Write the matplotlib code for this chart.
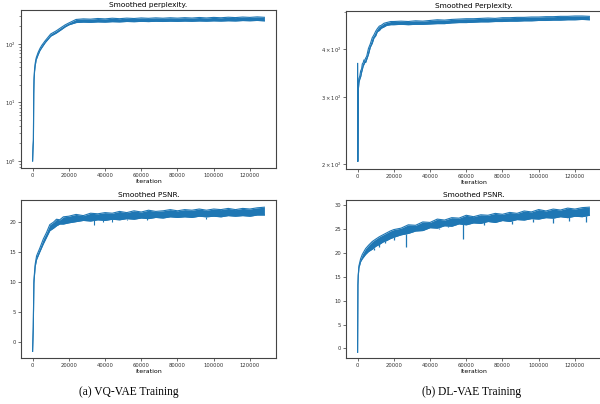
import matplotlib
matplotlib.use("Agg")
import matplotlib.pyplot as plt
from matplotlib.ticker import NullFormatter, FixedLocator
import numpy as np

# ---------------- data ----------------
dense_x = [20000, 24000, 28000, 32000, 36000, 40000, 44000, 48000, 52000, 56000,
           60000, 64000, 68000, 72000, 76000, 80000, 84000, 88000, 92000, 96000,
           100000, 104000, 108000, 112000, 116000, 120000, 124000, 128000]

# (a) VQ-VAE: smoothed perplexity (log scale)
vq_pp_early_x = [0, 200, 350, 450, 550, 650, 800, 1100, 1500, 2000, 3000, 4000, 5000,
                 7000, 10000, 13000, 16000, 18000]
vq_pp_early_hi = [1.0, 1.7, 2.1, 2.3, 6.3, 15.6, 26, 37.5, 48, 58, 71, 83, 94,
                  114, 148, 167, 193, 212]
vq_pp_early_lo = [1.0, 1.5, 1.9, 2.1, 5.7, 14.4, 24, 34.5, 44, 54, 65, 77, 86,
                  106, 136, 153, 177, 196]
vq_pp_hi = [228, 262, 268, 265, 272, 268, 275, 270, 276, 272, 278, 274, 279, 275,
            280, 276, 281, 277, 283, 278, 284, 280, 286, 282, 288, 284, 290, 285]
vq_pp_lo = [212, 232, 236, 234, 238, 236, 240, 238, 242, 240, 243, 241, 244, 242,
            245, 243, 246, 244, 247, 245, 248, 246, 249, 247, 251, 249, 252, 248]

# (b) DL-VAE: smoothed perplexity (log scale)
dl_pp_early_x = [0, 100, 370, 740, 1200, 1700, 2200, 2600, 3100, 3500, 4000, 4400,
                 5000, 6000, 7000, 8100, 9000, 10000, 10900, 12000, 13000, 14600,
                 16000, 18300]
dl_pp_early_hi = [367, 203, 318, 335, 340, 351, 355, 366, 369, 375, 374, 379,
                  383, 402, 413, 429, 436, 446, 453, 460, 462, 468, 470, 473]
dl_pp_early_lo = [367, 203, 312, 327, 334, 339, 348, 354, 362, 365, 370, 369,
                  376, 388, 405, 415, 428, 434, 445, 448, 454, 458, 462, 464]
dl_pp_hi = [473, 474, 473, 475, 474, 476, 478, 477, 479, 480, 481, 481, 482, 483,
            482, 484, 484, 485, 485, 486, 486, 487, 487, 488, 488, 489, 489, 488]
dl_pp_lo = [464, 465, 464, 465, 465, 466, 467, 467, 469, 470, 470, 471, 472, 472,
            473, 473, 474, 474, 475, 475, 476, 476, 477, 477, 478, 478, 479, 478]

# (a) VQ-VAE: smoothed PSNR
vq_ps_early_x = [0, 370, 550, 730, 1100, 1470, 2200, 4000, 5900, 7700, 9500,
                 11500, 13200, 15000, 17000]
vq_ps_early_hi = [-1.6, 2.5, 6.4, 10.2, 11.7, 13.0, 14.3, 15.6, 17.1, 18.2, 19.5,
                  19.9, 20.4, 20.3, 20.8]
vq_ps_early_lo = [-1.6, 2.1, 6.0, 9.8, 11.3, 12.6, 13.7, 15.0, 16.3, 17.4, 18.5,
                  18.9, 19.3, 19.6, 19.6]
vq_ps_hi = [20.9, 21.2, 21.0, 21.4, 21.3, 21.5, 21.4, 21.7, 21.5, 21.8, 21.6, 21.9,
            21.7, 21.8, 22.0, 21.8, 22.0, 21.9, 22.1, 21.9, 22.1, 22.0, 22.2, 22.0,
            22.2, 22.1, 22.3, 22.4]
vq_ps_lo = [19.8, 20.0, 20.2, 20.1, 20.3, 20.2, 20.4, 20.3, 20.5, 20.4, 20.6, 20.5,
            20.7, 20.6, 20.8, 20.7, 20.8, 20.7, 20.9, 20.8, 20.9, 20.8, 21.0, 20.9,
            21.0, 20.9, 21.1, 21.1]
vq_ps_dip_x = [34000, 44000, 39000, 63000, 96000, 52000]
vq_ps_dip_y = [19.5, 20.0, 20.0, 20.3, 20.5, 20.2]

# (b) DL-VAE: smoothed PSNR
dl_ps_early_x = [0, 185, 370, 740, 1670, 2600, 4400, 6000, 8100, 10000, 12000,
                 14000, 16000, 18000]
dl_ps_early_hi = [-0.8, 13.3, 15.4, 17.3, 18.8, 19.7, 20.9, 21.6, 22.4, 22.9, 23.4,
                  23.8, 24.2, 24.6]
dl_ps_early_lo = [-0.8, 13.3, 15.2, 16.9, 18.2, 18.8, 19.7, 20.3, 20.8, 21.4, 21.8,
                  22.3, 22.6, 23.0]
dl_ps_hi = [24.9, 25.2, 25.9, 25.8, 26.5, 26.4, 27.1, 26.9, 27.4, 27.3, 27.9, 27.6,
            28.0, 27.9, 28.3, 28.1, 28.5, 28.3, 28.8, 28.6, 29.1, 28.8, 29.2, 29.0,
            29.4, 29.2, 29.5, 29.6]
dl_ps_lo = [23.3, 23.8, 24.1, 24.6, 24.7, 25.3, 25.2, 25.7, 25.6, 26.1, 25.9, 26.3,
            26.2, 26.6, 26.4, 26.8, 26.6, 27.0, 26.9, 27.2, 27.1, 27.4, 27.3, 27.6,
            27.4, 27.7, 27.6, 27.9]
dl_ps_dip_x = [9000, 12000, 15000, 20000, 27000, 35000, 45000, 50000, 58000,
               70000, 85000, 97000, 108000, 117000, 126000]
dl_ps_dip_y = [20.6, 21.3, 22.0, 22.8, 21.3, 24.6, 25.0, 25.4, 22.9,
               25.9, 26.0, 26.5, 26.3, 26.6, 26.5]

C0 = '#1f77b4'

# ---------------- figure ----------------
fig = plt.figure(figsize=(6.0, 4.04), dpi=100)
W, H = 600, 404

def make_ax(left, top, right, bottom):
    return fig.add_axes([left / W, 1 - bottom / H, (right - left) / W, (bottom - top) / H])

ax_tl = make_ax(21, 10, 276, 168)
ax_tr = make_ax(346, 11, 601, 169)
ax_bl = make_ax(21, 200, 276, 358)
ax_br = make_ax(346, 200, 601, 358)

tick_fs = 3.8
lab_fs = 4.5
title_fs = 5.3

def style(ax, title, xlabel):
    for s in ax.spines.values():
        s.set_color('#444444')
        s.set_linewidth(0.8)
    ax.tick_params(which='major', length=2, width=0.5, labelsize=tick_fs, pad=1.5,
                   colors='#333333')
    ax.tick_params(which='minor', length=1.2, width=0.4, colors='#333333')
    ax.set_title(title, fontsize=title_fs, pad=2)
    ax.set_xlabel(xlabel, fontsize=lab_fs, labelpad=1)
    ax.set_xticks([0, 20000, 40000, 60000, 80000, 100000, 120000])
    ax.set_xlim(-6400, 134400)

def band(ax, ex, ehi, elo, hi, lo):
    x = list(ex) + dense_x
    h = np.array(list(ehi) + list(hi), dtype=float)
    l = np.array(list(elo) + list(lo), dtype=float)
    ax.fill_between(x, l, h, color=C0, lw=0)
    ax.plot(x, h, color=C0, lw=0.8)
    ax.plot(x, l, color=C0, lw=0.8)
    return x, h, l

# top-left
band(ax_tl, vq_pp_early_x, vq_pp_early_hi, vq_pp_early_lo, vq_pp_hi, vq_pp_lo)
ax_tl.set_yscale('log')
ax_tl.set_ylim(0.76, 380)
style(ax_tl, 'Smoothed perplexity.', 'iteration')

# top-right
band(ax_tr, dl_pp_early_x, dl_pp_early_hi, dl_pp_early_lo, dl_pp_hi, dl_pp_lo)
ax_tr.set_yscale('log')
ax_tr.set_ylim(194, 504)
ax_tr.yaxis.set_major_locator(FixedLocator([200, 300, 400]))
ax_tr.set_yticklabels([r'$2\times10^2$', r'$3\times10^2$', r'$4\times10^2$'])
ax_tr.yaxis.set_minor_locator(FixedLocator([500]))
ax_tr.yaxis.set_minor_formatter(NullFormatter())
style(ax_tr, 'Smoothed Perplexity.', 'Iteration')

# bottom-left
x, h, l = band(ax_bl, vq_ps_early_x, vq_ps_early_hi, vq_ps_early_lo, vq_ps_hi, vq_ps_lo)
ax_bl.vlines(vq_ps_dip_x, vq_ps_dip_y, np.interp(vq_ps_dip_x, x, l), color=C0, lw=0.8)
ax_bl.set_ylim(-2.7, 23.6)
ax_bl.set_yticks([0, 5, 10, 15, 20])
style(ax_bl, 'Smoothed PSNR.', 'iteration')

# bottom-right
x, h, l = band(ax_br, dl_ps_early_x, dl_ps_early_hi, dl_ps_early_lo, dl_ps_hi, dl_ps_lo)
ax_br.vlines(dl_ps_dip_x, dl_ps_dip_y, np.interp(dl_ps_dip_x, x, l), color=C0, lw=0.9)
ax_br.set_ylim(-2.0, 31.1)
ax_br.set_yticks([0, 5, 10, 15, 20, 25, 30])
style(ax_br, 'Smoothed PSNR.', 'Iteration')

# captions
fig.text(129 / W, 1 - 392 / H, '(a) VQ-VAE Training', ha='center', va='center',
         fontsize=8.3, family='Liberation Serif')
fig.text(472 / W, 1 - 392 / H, '(b) DL-VAE Training', ha='center', va='center',
         fontsize=8.3, family='Liberation Serif')

fig.savefig('out.png', dpi=100)
